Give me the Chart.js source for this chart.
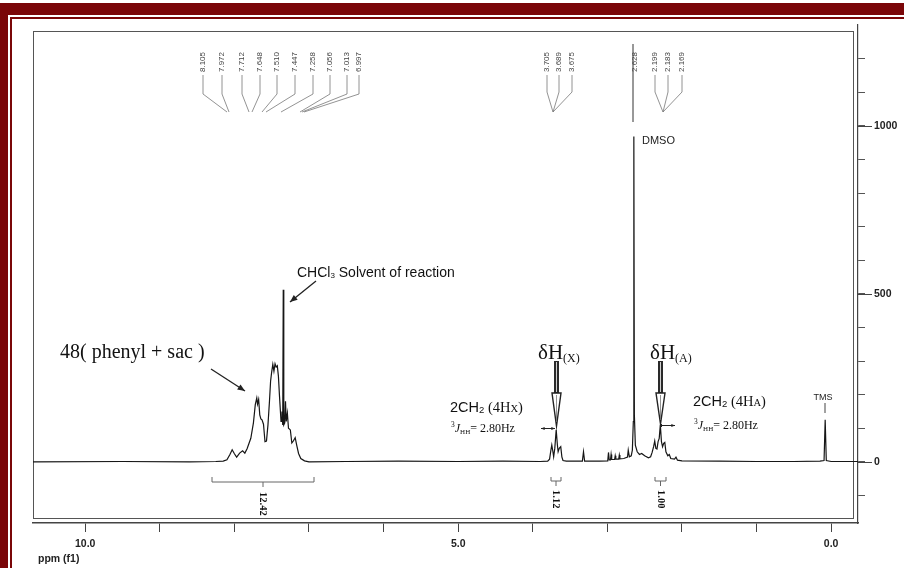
<!DOCTYPE html>
<html><head><meta charset="utf-8">
<script src="https://cdn.jsdelivr.net/npm/chart.js@4.4.1/dist/chart.umd.min.js"></script>
<style>html,body{margin:0;padding:0;background:#fff;}canvas{display:block;}</style>
</head><body>
<canvas id="c" width="904" height="568"></canvas>
<script>
// ---- data (ppm, intensity) ----
const ppm = [10.70,9.50,8.60,8.25,8.15,8.10,8.06,8.03,8.00,7.97,7.93,7.89,7.86,7.83,7.78,7.745,7.72,7.70,7.69,7.675,7.66,7.645,7.63,7.61,7.59,7.57,7.55,7.53,7.515,7.50,7.485,7.47,7.455,7.44,7.425,7.41,7.395,7.375,7.362,7.352,7.345,7.338,7.325,7.315,7.305,7.29,7.275,7.25,7.23,7.21,7.185,7.165,7.14,7.11,7.06,7.00,
  6.50,5.80,5.00,4.40,3.90,3.80,3.775,3.757,3.745,3.73,3.72,3.705,3.686,3.67,3.66,3.645,3.625,3.61,3.595,3.55,3.335,3.32,3.305,3.10,2.995,2.985,2.975,2.958,2.95,2.942,2.903,2.895,2.887,2.848,2.84,2.832,2.78,2.73,2.72,2.705,2.68,2.665,2.652,2.645,2.638,2.625,2.60,2.57,2.54,2.50,2.45,2.42,2.40,2.38,2.365,2.35,2.335,2.32,2.305,2.29,2.275,2.26,2.245,2.23,2.215,2.19,2.17,2.15,2.10,2.08,2.06,2.00,1.50,1.00,0.50,0.15,0.095,0.08,0.065,0.00,-0.36];
const intensity = [0,1,0,1,2,6,22,36,24,14,26,33,26,39,70,116,170,190,172,186,140,128,125,112,60,62,110,180,240,268,290,270,292,282,286,255,194,120,150,110,512,110,116,180,120,145,100,95,56,62,72,50,25,10,3,0,
  1,2,1,2,1,2,8,35,50,30,15,40,95,50,30,40,45,15,4,2,2,30,2,2,3,28,6,6,22,7,7,18,8,8,20,9,10,14,35,15,18,35,120,968,140,50,30,22,25,18,12,15,28,45,62,40,38,60,70,110,60,45,55,58,30,18,22,10,8,14,5,3,2,1,1,2,4,125,4,1,1];

const xTicks = [10,9,8,7,6,5,4,3,2,1,0];
const xTickLabels = ['10.0','','','','','5.0','','','','','0.0'];
const yTicks = [-100,0,100,200,300,400,500,600,700,800,900,1000,1100,1200];
const yMajorTicks = [0,500,1000];
const yTickLabels = {0:'0',500:'500',1000:'1000'};
const xAxisTitle = 'ppm (f1)';

const peakLabelsAromatic = ['8.105','7.972','7.712','7.648','7.510','7.447','7.258','7.056','7.013','6.997'];
const peakLabelsX = ['3.705','3.689','3.675'];
const peakLabelDMSO = '2.628';
const peakLabelsA = ['2.199','2.183','2.169'];
const integralValues = ['12.42','1.12','1.00'];

const SANS = "'Liberation Sans', Arial, sans-serif";
const SERIF = "'Liberation Serif', 'Times New Roman', serif";
const RED = '#7a0608';

function seg(ctx, pts, w, c) {
  ctx.beginPath(); ctx.moveTo(pts[0][0], pts[0][1]);
  for (let i = 1; i < pts.length; i++) ctx.lineTo(pts[i][0], pts[i][1]);
  ctx.lineWidth = w; ctx.strokeStyle = c; ctx.stroke();
}
function head(ctx, x1, y1, x2, y2, size, c) {
  const a = Math.atan2(y2 - y1, x2 - x1);
  ctx.beginPath(); ctx.moveTo(x2, y2);
  ctx.lineTo(x2 - size * Math.cos(a - 0.4), y2 - size * Math.sin(a - 0.4));
  ctx.lineTo(x2 - size * Math.cos(a + 0.4), y2 - size * Math.sin(a + 0.4));
  ctx.closePath(); ctx.fillStyle = c; ctx.fill();
}
function arrow(ctx, x1, y1, x2, y2, size, w, c) {
  seg(ctx, [[x1, y1], [x2, y2]], w, c); head(ctx, x1, y1, x2, y2, size, c);
}
function rich(ctx, x, y, parts, color) {
  ctx.fillStyle = color; ctx.textBaseline = 'alphabetic'; ctx.textAlign = 'left';
  for (const p of parts) { ctx.font = p.f; ctx.fillText(p.t, x, y + (p.dy || 0)); x += ctx.measureText(p.t).width; }
}
function rotText(ctx, t, x, y, ang, font, color) {
  ctx.save(); ctx.translate(x, y); ctx.rotate(ang);
  ctx.font = font; ctx.fillStyle = color; ctx.textAlign = 'left'; ctx.textBaseline = 'middle';
  ctx.fillText(t, 0, 0); ctx.restore();
}
function deltaArrow(ctx, x, yTop, yHead, yTip) {
  ctx.fillStyle = '#2a2a2a'; ctx.fillRect(x - 2.5, yTop, 5, yHead - yTop);
  seg(ctx, [[x, yTop + 1], [x, yHead - 1]], 1, '#cfcfcf');
  ctx.beginPath(); ctx.moveTo(x - 4.5, yHead); ctx.lineTo(x + 4.5, yHead); ctx.lineTo(x, yTip); ctx.closePath();
  ctx.fillStyle = '#fff'; ctx.fill(); ctx.lineWidth = 1.4; ctx.strokeStyle = '#222'; ctx.stroke();
  seg(ctx, [[x, yHead + 2], [x, yTip - 4]], 0.8, '#777');
}

const framePlugin = {
  id: 'frame',
  beforeDraw(chart) {
    const ctx = chart.ctx; ctx.save();
    ctx.fillStyle = '#fff'; ctx.fillRect(0, 0, 904, 568);
    ctx.fillStyle = RED;
    ctx.fillRect(0, 3, 904, 12);
    ctx.fillRect(0, 3, 8, 565);
    ctx.fillRect(10, 17, 894, 2);
    ctx.fillRect(10, 17, 2, 551);
    ctx.restore();
  }
};

const annotPlugin = {
  id: 'annot',
  beforeDatasetsDraw(chart) {
    const ctx = chart.ctx, a = chart.chartArea; ctx.save();
    ctx.lineWidth = 1; ctx.strokeStyle = '#555';
    ctx.strokeRect(a.left + 0.5, a.top + 6.5, a.right - a.left - 5, a.bottom - a.top - 11);
    ctx.restore();
  },
  afterDraw(chart) {
    const ctx = chart.ctx, a = chart.chartArea, ys = chart.scales.y;
    ctx.save();
    for (const v of yMajorTicks) { const y = Math.round(ys.getPixelForValue(v)) + 0.5; seg(ctx, [[a.right, y], [a.right + 14, y]], 1, '#444'); }
    ctx.font = `bold 10.5px ${SANS}`; ctx.fillStyle = '#222'; ctx.textBaseline = 'middle'; ctx.textAlign = 'left';
    ctx.fillText(xAxisTitle, 38, 559);

    // ---- peak labels (top) ----
    const lf = `8px ${SANS}`, lc = '#444';
    const arX = [203, 222, 242, 260, 277, 295, 313, 330, 347, 359];
    const arT = [227, 229, 249, 252, 262, 266, 281, 300, 302, 304];
    peakLabelsAromatic.forEach((t, i) => {
      rotText(ctx, t, arX[i], 72, -Math.PI / 2, lf, lc);
      seg(ctx, [[arX[i], 75], [arX[i], 94], [arT[i], 112]], 0.8, '#777');
    });
    const xX = [547, 559, 572];
    peakLabelsX.forEach((t, i) => {
      rotText(ctx, t, xX[i], 72, -Math.PI / 2, lf, lc);
      seg(ctx, [[xX[i], 75], [xX[i], 92], [553, 112]], 0.8, '#777');
    });
    seg(ctx, [[633, 44], [633, 122]], 1, '#333');
    rotText(ctx, peakLabelDMSO, 635, 72, -Math.PI / 2, lf, lc);
    const aX = [655, 668, 682];
    peakLabelsA.forEach((t, i) => {
      rotText(ctx, t, aX[i], 72, -Math.PI / 2, lf, lc);
      seg(ctx, [[aX[i], 75], [aX[i], 92], [663, 112]], 0.8, '#777');
    });
    ctx.font = `11px ${SANS}`; ctx.fillStyle = '#222'; ctx.textAlign = 'left'; ctx.textBaseline = 'middle';
    ctx.fillText('DMSO', 642, 141);

    // ---- text annotations ----
    rich(ctx, 297, 277, [{t: 'CHCl', f: `14px ${SANS}`}, {t: '3', f: `8px ${SANS}`, dy: 1}, {t: ' Solvent of reaction', f: `14px ${SANS}`}], '#111');
    arrow(ctx, 316, 281, 290, 302, 8, 1.3, '#222');
    rich(ctx, 60, 358, [{t: '48( phenyl + sac )', f: `20px ${SERIF}`}], '#111');
    arrow(ctx, 211, 369, 245, 391, 8, 1.3, '#222');

    rich(ctx, 538, 359, [{t: 'δH', f: `21px ${SERIF}`}, {t: '(X)', f: `12px ${SERIF}`, dy: 3}], '#111');
    rich(ctx, 650, 359, [{t: 'δH', f: `21px ${SERIF}`}, {t: '(A)', f: `12px ${SERIF}`, dy: 3}], '#111');
    deltaArrow(ctx, 556.5, 361, 393, 426);
    deltaArrow(ctx, 660.5, 361, 393, 424);
    seg(ctx, [[541, 428.5], [555, 428.5]], 1, '#222');
    head(ctx, 555, 428.5, 541, 428.5, 4, '#222'); head(ctx, 541, 428.5, 555, 428.5, 4, '#222');
    seg(ctx, [[661, 425.5], [675, 425.5]], 1, '#222');
    head(ctx, 661, 425.5, 675, 425.5, 4, '#222');
    ctx.fillStyle = '#222'; ctx.fillRect(660, 424, 2, 3);

    const cpl = (lbl) => [{t: '2CH', f: `14.5px ${SANS}`}, {t: '2', f: `9.5px ${SANS}`, dy: 1}, {t: ' (4H', f: `14.5px ${SERIF}`}, {t: lbl, f: `10.5px ${SERIF}`}, {t: ')', f: `14.5px ${SERIF}`}];
    const jj = [{t: '3', f: `7.5px ${SERIF}`, dy: -5}, {t: 'J', f: `italic 12px ${SERIF}`}, {t: 'HH', f: `7px ${SERIF}`, dy: 2}, {t: '= 2.80Hz', f: `12px ${SERIF}`}];
    rich(ctx, 450, 412, cpl('X'), '#111');
    rich(ctx, 451, 432, jj, '#111');
    rich(ctx, 693, 406, cpl('A'), '#111');
    rich(ctx, 694, 429, jj, '#111');

    ctx.font = `9px ${SANS}`; ctx.fillStyle = '#222'; ctx.textAlign = 'center'; ctx.textBaseline = 'middle';
    ctx.fillText('TMS', 823, 398);
    seg(ctx, [[825, 403], [825, 413]], 1, '#444');

    // ---- integrals ----
    seg(ctx, [[212, 477], [212, 482], [314, 482], [314, 477]], 1, '#666');
    seg(ctx, [[263, 482], [263, 487]], 1, '#666');
    seg(ctx, [[551, 477], [551, 481], [561, 481], [561, 477]], 1, '#666');
    seg(ctx, [[556, 481], [556, 486]], 1, '#666');
    seg(ctx, [[655, 477], [655, 481], [666, 481], [666, 477]], 1, '#666');
    seg(ctx, [[660.5, 481], [660.5, 486]], 1, '#666');
    const ifnt = `bold 10.5px ${SERIF}`;
    rotText(ctx, integralValues[0], 263, 492, Math.PI / 2, ifnt, '#111');
    rotText(ctx, integralValues[1], 556, 490, Math.PI / 2, ifnt, '#111');
    rotText(ctx, integralValues[2], 661, 490, Math.PI / 2, ifnt, '#111');
    ctx.restore();
  }
};

new Chart(document.getElementById('c'), {
  type: 'line',
  data: { datasets: [{ data: ppm.map((p, i) => ({x: p, y: intensity[i]})), borderColor: '#161616', borderWidth: 1.2, pointRadius: 0, tension: 0, fill: false }] },
  options: {
    responsive: false, animation: false, devicePixelRatio: 1,
    layout: { padding: { left: 33, right: 6, top: 25, bottom: 15 } },
    plugins: { legend: { display: false }, tooltip: { enabled: false } },
    scales: {
      x: {
        type: 'linear', reverse: true, min: -0.36, max: 10.70,
        afterBuildTicks: s => { s.ticks = xTicks.map(v => ({value: v})); },
        afterFit: s => { s.height = 30; },
        ticks: { autoSkip: false, maxRotation: 0, padding: 6, color: '#222',
          font: { family: SANS, size: 10.5, weight: 'bold' },
          callback: v => xTickLabels[xTicks.indexOf(v)] || '' },
        grid: { drawOnChartArea: false, drawTicks: true, tickLength: 9, color: '#444', tickWidth: 1 },
        border: { display: true, color: '#444', width: 1.5 }
      },
      y: {
        position: 'right', min: -182, max: 1300,
        afterBuildTicks: s => { s.ticks = yTicks.map(v => ({value: v})); },
        afterFit: s => { s.width = 40; },
        ticks: { autoSkip: false, padding: 9, color: '#222',
          font: { family: SANS, size: 10.5, weight: 'bold' },
          callback: v => yTickLabels[v] || '' },
        grid: { drawOnChartArea: false, drawTicks: true, tickLength: 7, color: '#555' },
        border: { display: true, color: '#444', width: 1.2 }
      }
    }
  },
  plugins: [framePlugin, annotPlugin]
});
</script>
</body></html>
